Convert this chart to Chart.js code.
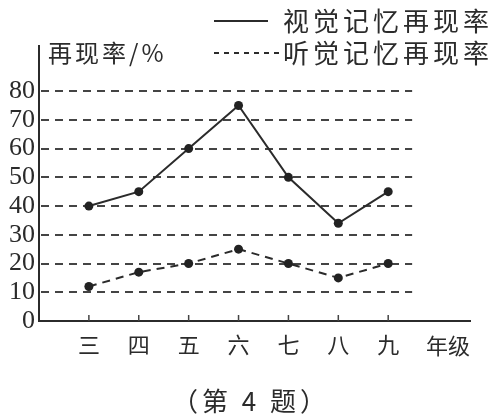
<!DOCTYPE html>
<html>
<head>
<meta charset="utf-8">
<script src="https://cdn.jsdelivr.net/npm/chart.js@4.4.1/dist/chart.umd.min.js"></script>
<style>
  html, body { margin: 0; padding: 0; background: #fff; }
  #wrap { width: 498px; height: 418px; }
</style>
</head>
<body>
<div id="wrap"><canvas id="myChart" width="498" height="418"></canvas></div>
<script>
// 数据
const grades = ['三', '四', '五', '六', '七', '八', '九'];
const visual = [40, 45, 60, 75, 50, 34, 45];   // 视觉记忆再现率
const audio = [12, 17, 20, 25, 20, 15, 20];     // 听觉记忆再现率
const yTicks = [0, 10, 20, 30, 40, 50, 60, 70, 80];

const ink = '#2b2b2b';
const cjk = '"Noto Sans CJK SC", sans-serif';

function pts(arr) {
    return arr.map(function (v, i) { return { x: i + 1, y: v }; });
}

/* 网格线、刻度、图例和标题 */
const extras = {
    id: 'extras',
    beforeDatasetsDraw(chart) {
        const ctx = chart.ctx;
        const xs = chart.scales.x, ys = chart.scales.y;
        ctx.save();
        // 虚线网格
        ctx.strokeStyle = '#444';
        ctx.lineWidth = 2;
        ctx.setLineDash([8, 6]);
        yTicks.forEach(function (t) {
            if (t === 0) return;
            const y = Math.round(ys.getPixelForValue(t));
            ctx.beginPath();
            ctx.moveTo(xs.getPixelForValue(0) + 2, y);
            ctx.lineTo(xs.getPixelForValue(7.48), y);
            ctx.stroke();
        });
        // 横轴上的刻度（向上）
        ctx.setLineDash([]);
        ctx.lineWidth = 1.5;
        const y0 = ys.getPixelForValue(0);
        grades.forEach(function (g, i) {
            const x = xs.getPixelForValue(i + 1);
            ctx.beginPath();
            ctx.moveTo(x, y0);
            ctx.lineTo(x, y0 - 6);
            ctx.stroke();
        });
        ctx.restore();
    },
    afterDraw(chart) {
        const ctx = chart.ctx;
        const xs = chart.scales.x;
        ctx.save();
        ctx.fillStyle = ink;
        ctx.textBaseline = 'middle';
        // 纵轴标题
        ctx.font = '24px ' + cjk;
        ctx.textAlign = 'left';
        ctx.letterSpacing = '3px';
        ctx.fillText('再现率/%', 48, 53);
        ctx.letterSpacing = '0px';
        // 横轴单位
        ctx.font = '22px ' + cjk;
        ctx.textAlign = 'center';
        ctx.fillText('年级', xs.getPixelForValue(8.2), 346);
        // 图例
        const ds = chart.data.datasets;
        const rows = [21, 53];
        ds.forEach(function (d, i) {
            ctx.strokeStyle = ink;
            ctx.lineWidth = 2;
            ctx.setLineDash(i === 0 ? [] : [5, 5]);
            ctx.beginPath();
            ctx.moveTo(214, rows[i]);
            ctx.lineTo(i === 0 ? 268 : 279, rows[i]);
            ctx.stroke();
            ctx.setLineDash([]);
            ctx.font = '26px ' + cjk;
            ctx.textAlign = 'left';
            ctx.letterSpacing = '4px';
            ctx.fillText(d.label, 283, rows[i]);
            ctx.letterSpacing = '0px';
        });
        // 题号
        ctx.font = '26px ' + cjk;
        ctx.textAlign = 'center';
        ctx.letterSpacing = '4px';
        ctx.fillText('（第 4 题）', 251, 401);
        ctx.restore();
    }
};

const ctx = document.getElementById('myChart').getContext('2d');

const myChart = new Chart(ctx, {
    type: 'line',
    data: {
        datasets: [{
            label: '视觉记忆再现率',
            data: pts(visual),
            borderColor: ink,
            borderWidth: 2,
            pointRadius: 4.5,
            pointBackgroundColor: '#222',
            pointBorderWidth: 0,
            tension: 0
        }, {
            label: '听觉记忆再现率',
            data: pts(audio),
            borderColor: ink,
            borderWidth: 2,
            borderDash: [8, 6],
            pointRadius: 4.5,
            pointBackgroundColor: '#222',
            pointBorderWidth: 0,
            tension: 0
        }]
    },
    options: {
        responsive: false,
        animation: false,
        layout: { padding: { left: 0, right: 28, top: 46, bottom: 47 } },
        plugins: {
            legend: { display: false },
            tooltip: { enabled: false }
        },
        scales: {
            x: {
                type: 'linear',
                min: 0,
                max: 8.64,
                afterBuildTicks: function (scale) {
                    scale.ticks = grades.map(function (g, i) { return { value: i + 1 }; });
                },
                afterFit: function (scale) { scale.height = 50; },
                ticks: {
                    callback: function (v) { return grades[v - 1]; },
                    font: { family: cjk, size: 22 },
                    color: ink,
                    padding: 10,
                    maxRotation: 0,
                    autoSkip: false
                },
                grid: { display: false, drawTicks: false },
                border: { display: true, color: ink, width: 2 }
            },
            y: {
                min: 0,
                max: 95.7,
                afterBuildTicks: function (scale) {
                    scale.ticks = yTicks.map(function (v) { return { value: v }; });
                },
                afterFit: function (scale) { scale.width = 39; },
                ticks: {
                    font: { family: '"Liberation Serif", serif', size: 26 },
                    color: ink,
                    padding: 4
                },
                grid: { display: false, drawTicks: false },
                border: { display: true, color: ink, width: 2 }
            }
        }
    },
    plugins: [extras]
});
</script>
</body>
</html>
